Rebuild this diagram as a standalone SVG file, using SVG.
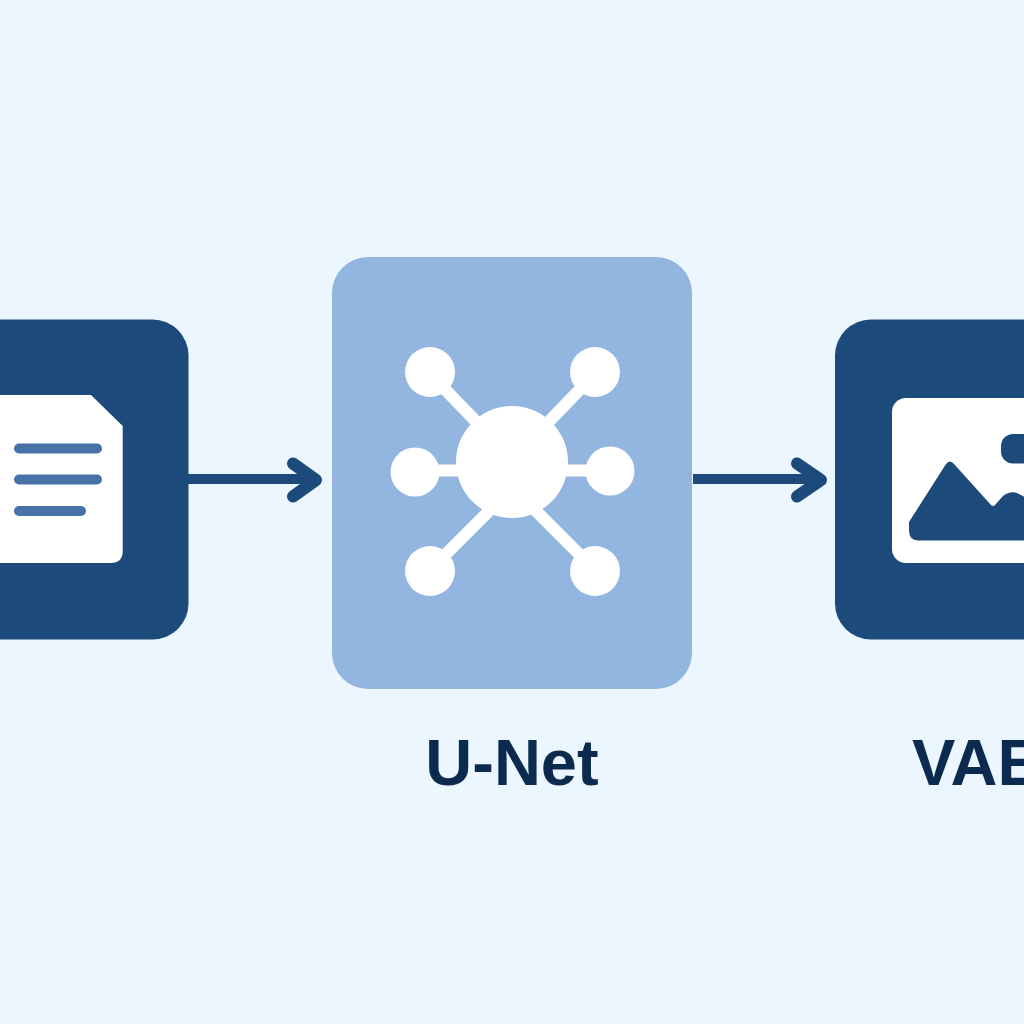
<svg xmlns="http://www.w3.org/2000/svg" width="1024" height="1024" viewBox="0 0 1024 1024">
<style>
.dark{fill:#1c4a7a}
.white{fill:#fff}
.doc-line{fill:#4672a8}
.conn{fill:none;stroke:#1c4a7a;stroke-width:10}
.head{fill:none;stroke:#1c4a7a;stroke-width:12;stroke-linecap:round;stroke-linejoin:round}
.spoke{stroke:#fff;stroke-width:12;fill:none}
.label{font-family:"Liberation Sans",Arial,sans-serif;font-weight:700;font-size:65px;fill:#0b2a4e}
</style>
<rect width="1024" height="1024" fill="#ebf6ff"/>
<g id="connectors">
<path class="conn" d="M188 479H316"/>
<path class="head" d="M293 463.500L316 480L293 496.500"/>
<path class="conn" d="M693 479H821"/>
<path class="head" d="M797 463.500L821 480L797 496.500"/>
</g>
<g id="text-encoder">
<rect class="dark" x="-60" y="319.5" width="248.500" height="320" rx="36"/>
<path class="white" d="M-10 395H91L122.700 426V551Q122.700 563 110.700 563H-10Z"/>
<rect class="doc-line" x="14" y="443.500" width="88" height="10" rx="5"/>
<rect class="doc-line" x="14" y="474.500" width="88" height="10" rx="5"/>
<rect class="doc-line" x="14" y="506" width="72" height="10" rx="5"/>
</g>
<g id="u-net">
<rect x="332" y="257" width="360" height="432" rx="36" fill="#93b6e0"/>
<path class="spoke" d="M436 380L490 436M589 380L535 436M415 470.500H512M610 470.500H512M436 564L490 510M589 564L535 510"/>
<circle class="white" cx="512" cy="462" r="56"/>
<circle class="white" cx="430" cy="372" r="25"/>
<circle class="white" cx="595" cy="372" r="25"/>
<circle class="white" cx="415" cy="472" r="24.500"/>
<circle class="white" cx="610" cy="471" r="24.500"/>
<circle class="white" cx="430" cy="571" r="25"/>
<circle class="white" cx="595" cy="571" r="25"/>
<text class="label" x="512" y="785" text-anchor="middle">U-Net</text>
</g>
<g id="vae">
<rect class="dark" x="835" y="319.5" width="260" height="320" rx="36"/>
<rect class="white" x="892" y="398" width="180" height="165" rx="14"/>
<rect class="dark" x="1001" y="434" width="50" height="29.500" rx="12"/>
<path class="dark" d="M909 522L946 464Q950 459 954 464L991 505Q993 507 995 505L1003 496Q1012 489 1021 495L1030 500V540.500H918Q909 540.500 909 530Z"/>
<text class="label" x="912" y="785">VAE</text>
</g>
</svg>
